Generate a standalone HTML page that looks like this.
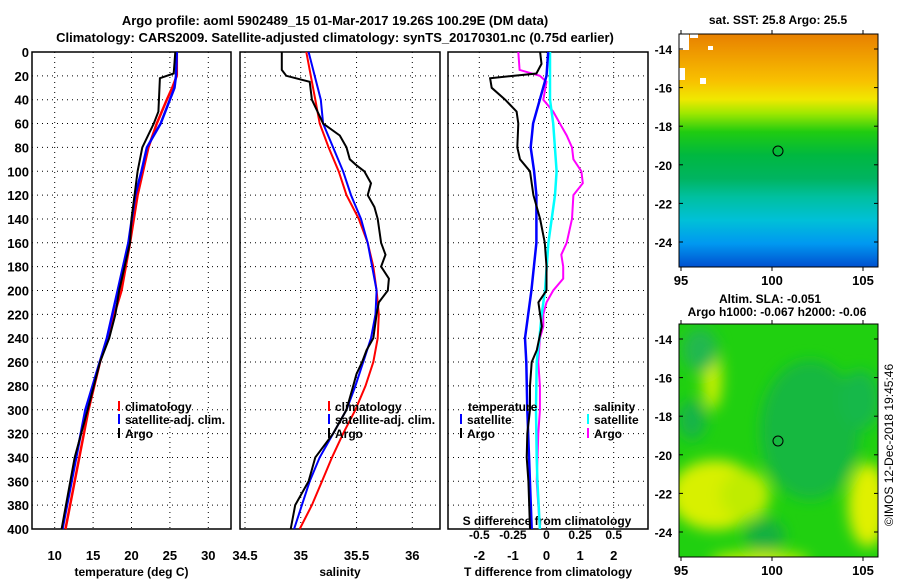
<!DOCTYPE html>
<html><head><meta charset="utf-8"><style>
body{margin:0;background:#fff;}
svg{display:block;font-family:"Liberation Sans",sans-serif;font-weight:bold;}
</style></head><body>
<svg id="fig" width="900" height="580" viewBox="0 0 900 580">
<defs>
<linearGradient id="sstg" x1="0" y1="0" x2="0" y2="1">
<stop offset="0" stop-color="#e88000"/><stop offset="0.1" stop-color="#f0a000"/><stop offset="0.2" stop-color="#f8c000"/><stop offset="0.28" stop-color="#f0e800"/><stop offset="0.34" stop-color="#a0e800"/><stop offset="0.42" stop-color="#20cc10"/><stop offset="0.52" stop-color="#00b840"/><stop offset="0.62" stop-color="#00b460"/><stop offset="0.7" stop-color="#00c0a0"/><stop offset="0.8" stop-color="#00c0d8"/><stop offset="0.9" stop-color="#0098f0"/><stop offset="1" stop-color="#0050d0"/>
</linearGradient>
<filter id="blur"><feGaussianBlur stdDeviation="7"/></filter>
<clipPath id="m2c"><rect x="679" y="324" width="199" height="233"/></clipPath>
</defs>
<text x="335" y="25" text-anchor="middle" font-size="13">Argo profile: aoml 5902489_15 01-Mar-2017 19.26S 100.29E (DM data)</text>
<text x="335" y="42" text-anchor="middle" font-size="13">Climatology: CARS2009. Satellite-adjusted climatology: synTS_20170301.nc (0.75d earlier)</text>
<g id="p1"></g>
<g id="p2"></g>
<g id="p3"></g>
<g>
<text x="778" y="24" text-anchor="middle" font-size="12">sat. SST: 25.8 Argo: 25.5</text>
<rect x="679" y="34" width="199" height="233" fill="url(#sstg)"/>
<g id="sstnoise"></g>
<rect x="679" y="34" width="199" height="233" fill="none" stroke="#000"/>
<circle cx="778" cy="151" r="5" fill="none" stroke="#000"/>
<g id="m1ax"></g>
</g>
<g>
<text x="770" y="303" text-anchor="middle" font-size="12">Altim. SLA: -0.051</text>
<text x="777" y="316" text-anchor="middle" font-size="12">Argo h1000: -0.067 h2000: -0.06</text>
<g clip-path="url(#m2c)">
<rect x="679" y="324" width="199" height="233" fill="#20d010"/>
<g filter="url(#blur)">
<ellipse cx="810" cy="430" rx="50" ry="70" fill="#18b840"/>
<ellipse cx="715" cy="495" rx="45" ry="35" fill="#d8f000"/>
<ellipse cx="745" cy="495" rx="25" ry="25" fill="#c0ec00"/>
<ellipse cx="712" cy="378" rx="10" ry="32" fill="#c8f000"/>
<ellipse cx="868" cy="505" rx="20" ry="42" fill="#e0f000"/>
<ellipse cx="700" cy="350" rx="18" ry="22" fill="#20b850"/>
<ellipse cx="765" cy="535" rx="20" ry="16" fill="#18b040"/>
<ellipse cx="692" cy="420" rx="14" ry="20" fill="#18b448"/>
<ellipse cx="760" cy="560" rx="50" ry="8" fill="#d0f000"/>
<ellipse cx="860" cy="400" rx="20" ry="30" fill="#18b848"/>
</g></g>
<rect x="679" y="324" width="199" height="233" fill="none" stroke="#000"/>
<circle cx="778" cy="441" r="5" fill="none" stroke="#000"/>
<g id="m2ax"></g>
</g>
<text transform="translate(893,445) rotate(-90)" text-anchor="middle" font-size="12" font-weight="normal">©IMOS 12-Dec-2018 19:45:46</text>
</svg>
<script>
const depthTicks=[0,20,40,60,80,100,120,140,160,180,200,220,240,260,280,300,320,340,360,380,400];
// temperature
const tempClimDepth=[0,20,30,40,60,80,100,120,160,200,260,300,400];
const tempClim=[25.9,25.9,25.3,24.6,23.3,22.2,21.5,20.8,19.8,18.7,15.9,14.4,11.4];
const tempSatDepth=[0,20,30,40,60,80,100,120,160,200,240,300,340,400];
const tempSat=[25.9,25.8,25.6,25.0,23.8,22.0,21.3,20.5,19.6,18.2,16.8,14.0,12.8,11.0];
const tempArgoDepth=[0,18,22,50,60,80,100,140,160,200,220,240,260,300,340,400];
const tempArgo=[25.7,25.5,23.7,23.5,22.9,21.4,20.8,20.0,19.8,18.4,17.9,17.1,15.9,14.3,12.6,10.9];
const tempTicks=[10,15,20,25,30];
// salinity
const salClimDepth=[0,40,60,80,100,120,140,160,180,200,220,240,260,280,300,320,340,360,380,400];
const salClim=[35.05,35.13,35.17,35.25,35.34,35.41,35.52,35.6,35.65,35.68,35.70,35.69,35.65,35.58,35.49,35.38,35.28,35.19,35.10,34.99];
const salSatDepth=[0,40,60,80,100,120,140,160,200,220,240,260,280,300,320,340,360,380,400];
const salSat=[35.07,35.18,35.2,35.29,35.38,35.45,35.54,35.6,35.68,35.67,35.63,35.56,35.49,35.41,35.29,35.17,35.08,35.01,34.94];
const salArgoDepth=[0,15,20,25,40,50,60,70,80,90,95,100,110,120,130,140,160,170,180,190,200,210,220,240,250,260,270,280,300,320,340,360,380,400];
const salArgo=[34.83,34.83,34.87,35.08,35.1,35.15,35.20,35.35,35.41,35.44,35.5,35.57,35.63,35.6,35.66,35.69,35.72,35.76,35.72,35.79,35.78,35.70,35.68,35.65,35.59,35.55,35.5,35.47,35.41,35.29,35.13,35.07,34.95,34.91];
const salTicks=[34.5,35,35.5,36];
// differences
const dTSatDepth=[0,20,40,60,80,100,120,160,200,240,260,300,400];
const dTSat=[0.05,0,-0.2,-0.4,-0.47,-0.37,-0.3,-0.3,-0.45,-0.64,-0.6,-0.57,-0.44];
const dTArgoDepth=[0,10,18,22,30,40,50,60,80,90,100,120,140,160,180,200,210,230,250,260,280,300,320,340,360,400];
const dTArgo=[-0.19,-0.15,-0.3,-1.68,-1.63,-1.23,-0.89,-0.84,-0.87,-0.79,-0.49,-0.39,-0.19,-0.05,0,0,-0.24,-0.14,-0.29,-0.44,-0.49,-0.49,-0.57,-0.59,-0.54,-0.49];
const dSSatDepth=[0,40,60,100,120,160,200,220,240,260,300,340,360,400];
const dSSat=[0.026,0.026,0.05,0.075,0.063,0.014,-0.011,-0.036,-0.053,-0.073,-0.078,-0.073,-0.068,-0.049];
const dSArgoDepth=[0,15,20,25,40,50,60,70,80,90,100,110,120,140,160,170,180,190,200,210,220,230,240,260,280,300,320,360,400];
const dSArgo=[-0.21,-0.2,-0.05,0,-0.024,0.05,0.1,0.15,0.19,0.2,0.26,0.27,0.2,0.19,0.15,0.11,0.124,0.124,0.05,0,-0.024,-0.024,-0.049,-0.061,-0.049,-0.049,-0.061,-0.073,-0.049];
const dTTicks=[-2,-1,0,1,2];
const dSTicks=[-0.5,-0.25,0,0.25,0.5];
const dSTickLabels=["-0.5","-0.25","0","0.25","0.5"];

const NS="http://www.w3.org/2000/svg";
function mk(tag,attrs,parent,txt){const e=document.createElementNS(NS,tag);for(const k in attrs)e.setAttribute(k,attrs[k]);if(txt!==undefined)e.textContent=txt;parent.appendChild(e);return e;}
const yTop=52,yBot=529;
function yS(d){return yTop+(d/400)*(yBot-yTop);}
function lin(d0,d1,r0,r1){return v=>r0+(v-d0)/(d1-d0)*(r1-r0);}

function panel(g,x0,x1,xS,ticks,labels,xlabel,showY,tickY){
  const r=mk('rect',{x:x0,y:yTop,width:x1-x0,height:yBot-yTop,fill:'none',stroke:'#000','stroke-width':1.5},g);
  
  
  depthTicks.forEach(d=>{
    if(d>0&&d<400){const l=mk('line',{x1:x0,x2:x1,y1:yS(d),y2:yS(d),stroke:'#000','stroke-dasharray':'1,4'},g);
      
      }
    if(showY){const t=mk('text',{x:x0-3,y:yS(d)+5,'text-anchor':'end','font-size':13},g,String(d));
      
      }
  });
  ticks.forEach((v,i)=>{
    const x=xS(v);
    if(x>x0+2&&x<x1-2){const l=mk('line',{x1:x,x2:x,y1:yTop,y2:yBot,stroke:'#000','stroke-dasharray':'1,4'},g);
      
      }
    const t=mk('text',{x:x,y:tickY,'text-anchor':'middle','font-size':13},g,labels[i]);
    
    
  });
  const xl=mk('text',{x:(x0+x1)/2,y:576,'text-anchor':'middle','font-size':12},g,xlabel);
  
  
}
function series(g,xS,ds,vs,col,w,name){
  const pts=ds.map((d,i)=>xS(vs[i]).toFixed(1)+','+yS(d).toFixed(1)).join(' ');
  const p=mk('polyline',{points:pts,fill:'none',stroke:col,'stroke-width':w},g);
  
  
}
function legend(g,x,y,col,label,name){
  const l=mk('line',{x1:x,x2:x,y1:y-10,y2:y,stroke:col,'stroke-width':2},g);
  
  
  const t=mk('text',{x:x+6,y:y,'font-size':12},g,label);
  
  
}
// panel 1
const g1=document.getElementById('p1');
const xT=lin(10,30,54.7,208.3);
panel(g1,32,231,xT,tempTicks,tempTicks.map(String),'temperature (deg C)',true,560);
series(g1,xT,tempClimDepth,tempClim,'#ff0000',2.5,'temp-climatology-line');
series(g1,xT,tempSatDepth,tempSat,'#0000ff',2.5,'temp-satellite-line');
series(g1,xT,tempArgoDepth,tempArgo,'#000',2,'temp-argo-line');
legend(g1,119,411,'#ff0000','climatology','legend-climatology');
legend(g1,119,424,'#0000ff','satellite-adj. clim.','legend-satellite');
legend(g1,119,438,'#000','Argo','legend-argo');
// panel 2
const g2=document.getElementById('p2');
const xSl=lin(34.5,36,245,412.3);
panel(g2,240,440,xSl,salTicks,['34.5','35','35.5','36'],'salinity',false,560);
series(g2,xSl,salClimDepth,salClim,'#ff0000',2,'sal-climatology-line');
series(g2,xSl,salSatDepth,salSat,'#0000ff',2,'sal-satellite-line');
series(g2,xSl,salArgoDepth,salArgo,'#000',2,'sal-argo-line');
legend(g2,329,411,'#ff0000','climatology','legend-climatology');
legend(g2,329,424,'#0000ff','satellite-adj. clim.','legend-satellite');
legend(g2,329,438,'#000','Argo','legend-argo');
// panel 3
const g3=document.getElementById('p3');
const xD=lin(-2,2,479.3,613.7);
const xDS=lin(-0.5,0.5,479.3,613.7);
panel(g3,448,648,xD,dTTicks,dTTicks.map(String),'T difference from climatology',false,560);
dSTicks.forEach((v,i)=>{const t=mk('text',{x:xDS(v),y:539,'text-anchor':'middle','font-size':12},g3,dSTickLabels[i]);
  
  });
const st=mk('text',{x:547,y:525,'text-anchor':'middle','font-size':12},g3,'S difference from climatology');


series(g3,xDS,dSArgoDepth,dSArgo,'#ff00ff',2,'sdiff-argo-line');
series(g3,xDS,dSSatDepth,dSSat,'#00ffff',2.5,'sdiff-satellite-line');
series(g3,xD,dTSatDepth,dTSat,'#0000ff',2.5,'tdiff-satellite-line');
series(g3,xD,dTArgoDepth,dTArgo,'#000',2,'tdiff-argo-line');
const h1=mk('text',{x:468,y:411,'font-size':12},g3,'temperature');


const h2=mk('text',{x:594,y:411,'font-size':12},g3,'salinity');


legend(g3,461,424,'#0000ff','satellite','legend-t-satellite');
legend(g3,461,438,'#000','Argo','legend-t-argo');
legend(g3,588,424,'#00ffff','satellite','legend-s-satellite');
legend(g3,588,438,'#ff00ff','Argo','legend-s-argo');
// map axes
const lats=[-14,-16,-18,-20,-22,-24];
const lons=[95,100,105];
function mapAxes(id,top,bot){
  const g=document.getElementById(id);
  const yL=lin(-14,-24,top+15,top+208);
  const xL=lin(95,105,681,863);
  lats.forEach(v=>{const y=yL(v);
    mk('line',{x1:679,x2:683,y1:y,y2:y,stroke:'#000'},g);
    mk('line',{x1:874,x2:878,y1:y,y2:y,stroke:'#000'},g);
    const t=mk('text',{x:672,y:y+5,'text-anchor':'end','font-size':12},g,String(v));
    
    });
  lons.forEach(v=>{const x=xL(v);
    mk('line',{x1:x,x2:x,y1:top-4,y2:top,stroke:'#000'},g);
    mk('line',{x1:x,x2:x,y1:bot,y2:bot+4,stroke:'#000'},g);
    const t=mk('text',{x:x,y:bot+18,'text-anchor':'middle','font-size':13},g,String(v));
    
    });
}
mapAxes('m1ax',34,267);
mapAxes('m2ax',324,557);
// white missing patches on sst map
const wp=document.getElementById('sstnoise');
[[679,34,10,16],[679,68,6,12],[700,78,6,6],[708,46,5,4],[690,34,8,4]].forEach(r=>{
  const e=mk('rect',{x:r[0],y:r[1],width:r[2],height:r[3],fill:'#fff'},wp);
  
  });
</script>
</body></html>
